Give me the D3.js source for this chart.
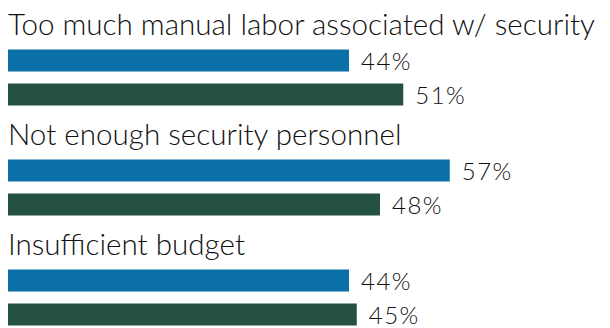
<!DOCTYPE html>
<html>
<head>
<meta charset="utf-8">
<script src="https://cdn.jsdelivr.net/npm/d3@7"></script>
<style>
  html, body { margin: 0; padding: 0; background: #ffffff; overflow: hidden; }
  svg { display: block; }
  text { font-family: Lato, "Open Sans", sans-serif; font-weight: 300; fill: #111111; }
</style>
</head>
<body>
<svg id="chart" width="610" height="328"></svg>
<script>
// Survey answers and the share of respondents per group
const categories = [
  "Too much manual labor associated w/ security",
  "Not enough security personnel",
  "Insufficient budget"
];
const seriesNames = ["Group A", "Group B"];
const seriesA = [44, 57, 44];
const seriesB = [51, 48, 45];
const seriesColors = ["#0b6fa8", "#245140"];

const svg = d3.select("#chart");

// Each category block: label line, then one bar per series
const yGroup = d3.scaleBand()
  .domain(categories)
  .range([0, 330])
  .paddingInner(0)
  .paddingOuter(0);

const ySeries = d3.scaleBand()
  .domain(seriesNames)
  .range([49.5, 105.5])
  .paddingInner(12 / 34)
  .paddingOuter(0);

const x = d3.scaleLinear().domain([0, 60]).range([8, 473]);

const rows = categories.map((c, i) => ({
  category: c,
  values: [
    { series: seriesNames[0], value: seriesA[i], color: seriesColors[0] },
    { series: seriesNames[1], value: seriesB[i], color: seriesColors[1] }
  ]
}));

const groups = svg.selectAll("g.group")
  .data(rows)
  .join("g")
  .attr("class", "group")
  .attr("transform", d => `translate(0,${yGroup(d.category)})`);

groups.append("text")
  .attr("class", "cat-label")
  .attr("x", 8)
  .attr("y", 34.5)
  .attr("font-size", 29.6)
  .text(d => d.category);

groups.selectAll("rect")
  .data(d => d.values)
  .join("rect")
  .attr("x", x(0))
  .attr("y", d => ySeries(d.series))
  .attr("width", d => x(d.value) - x(0))
  .attr("height", ySeries.bandwidth())
  .attr("fill", d => d.color);

groups.selectAll("text.value")
  .data(d => d.values)
  .join("text")
  .attr("class", "value")
  .attr("x", d => x(d.value) + 12)
  .attr("y", d => ySeries(d.series) + ySeries.bandwidth() - 2)
  .attr("font-size", 24)
  .attr("letter-spacing", 1.5)
  .text(d => d.value + "%");
</script>
</body>
</html>
